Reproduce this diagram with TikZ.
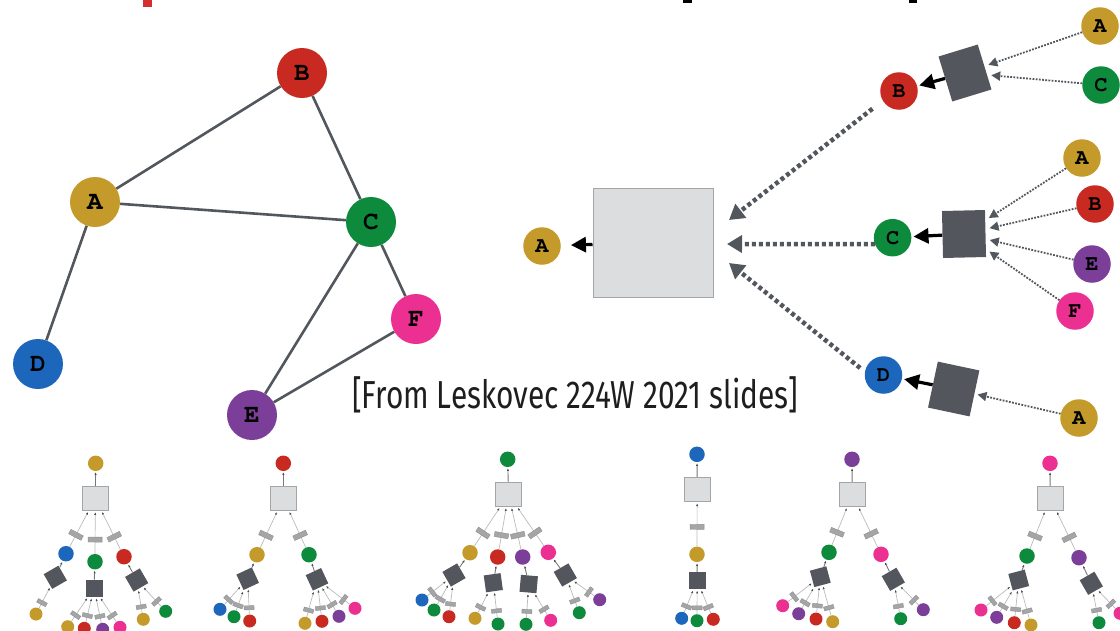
\documentclass[tikz,border=0pt]{standalone}
\usepackage[T1]{fontenc}
\usepackage{fontspec}
\usepackage{graphicx}
\usetikzlibrary{arrows.meta}
\newfontfamily\capfont{Fira Sans}
% Courier bold (URW) for the node letters
\newcommand\lett[1]{\fontencoding{T1}\fontfamily{pcr}\fontseries{b}\fontshape{n}\fontsize{#1}{#1}\selectfont}

\definecolor{cA}{HTML}{C49A2A}
\definecolor{cB}{HTML}{C82A22}
\definecolor{cC}{HTML}{0D8A3C}
\definecolor{cD}{HTML}{1C66BC}
\definecolor{cE}{HTML}{7B3F99}
\definecolor{cF}{HTML}{EC3092}
\definecolor{edgec}{HTML}{52575D}
\definecolor{aggc}{HTML}{53575D}
\definecolor{boxfill}{HTML}{DCDDDF}
\definecolor{boxline}{HTML}{A4A5A7}
\definecolor{msgfill}{HTML}{A3A5A7}
\definecolor{msgline}{HTML}{8E9092}
\definecolor{lineg}{HTML}{BBBBBB}
\definecolor{upg}{HTML}{777777}
\definecolor{tipc}{HTML}{4A4A4A}
\definecolor{headred}{HTML}{D32F2F}
\definecolor{captext}{HTML}{1E1E1E}

% small computation trees
\newcommand\tkid[5]{% name, colour, x, y, parent box
  \node[snode, fill=#2] (#1) at (#3,#4) {};
  \draw[tline] (#1) -- node[msgA]{} (#5);}
\newcommand\tleaf[5]{% name, colour, x, y, parent aggregator
  \node[lnode, fill=#2] (#1) at (#3,#4) {};
  \draw[tline] (#1) -- node[msgB]{} (#5);}
\newcommand\tagg[5]{% name, x, y, rotation, node it feeds
  \node[sagg, rotate=#4] (#1) at (#2,#3) {};
  \draw[uline] (#1) -- (#5);}

\begin{document}
\begin{tikzpicture}[x=1pt,y=-1pt,
  gnode/.style={circle, inner sep=0pt, minimum size=50pt, font=\lett{26}},
  tnode/.style={circle, inner sep=0pt, minimum size=37.5pt, font=\lett{22}},
  snode/.style={circle, inner sep=0pt, minimum size=15.5pt},
  lnode/.style={circle, inner sep=0pt, minimum size=13pt},
  gedge/.style={draw=edgec, line width=2.6pt},
  bigbox/.style={draw=boxline, fill=boxfill, line width=1pt, minimum width=120pt, minimum height=109pt, inner sep=0pt},
  agg/.style={fill=aggc, inner sep=0pt},
  outarrow/.style={black, line width=3.2pt, -{Triangle[length=15pt,width=15pt]}},
  thickdot/.style={draw=edgec, line width=4.5pt, dash pattern=on 4pt off 3pt, -{Triangle[length=15pt,width=17pt]}},
  thindot/.style={draw=edgec, line width=1.8pt, dash pattern=on 1.8pt off 1.4pt, -{Triangle[length=9pt,width=9pt]}},
  sbox/.style={draw=boxline, fill=boxfill, line width=0.8pt, minimum width=26pt, minimum height=24pt, inner sep=0pt},
  sagg/.style={fill=aggc, inner sep=0pt, minimum size=17pt},
  tline/.style={draw=lineg, line width=0.7pt, shorten >=1.5pt, -{Latex[length=2.6pt,width=2.2pt,color=tipc]}},
  uline/.style={draw=upg, line width=0.9pt, shorten >=1pt, -{Latex[length=2.6pt,width=2.2pt,color=tipc]}},
  msgA/.style={sloped, pos=0.33, fill=msgfill, draw=msgline, line width=0.4pt, minimum width=5pt, minimum height=14pt, inner sep=0pt},
  msgB/.style={msgA, pos=0.25, minimum width=4pt, minimum height=10pt}]
\useasboundingbox (0,0) rectangle (1120,630);
\clip (0,0) rectangle (1120,630);

% fragments of the heading line
\fill[headred] (143.3,0) rectangle (152,6.7);
\fill[black] (682.7,0) rectangle (691.7,2.7);
\fill[black] (909.3,0) rectangle (917.3,2.7);

% ---------------- input graph ----------------
\node[gnode, fill=cA] (A) at (95,202) {A};
\node[gnode, fill=cB] (B) at (302,73) {B};
\node[gnode, fill=cC] (C) at (371,222) {C};
\node[gnode, fill=cD] (D) at (38,364) {D};
\node[gnode, fill=cE] (E) at (252,415) {E};
\node[gnode, fill=cF] (F) at (416,319) {F};
\foreach \u/\v in {A/B, A/C, B/C, A/D, C/E, C/F, E/F}
  \draw[gedge] (\u) -- (\v);

% ---------------- computation graph of A ----------------
\node[bigbox] (top) at (653,242.5) {};
\node[tnode, fill=cA] (q) at (542,246) {A};
\draw[outarrow, shorten >=10pt] (top) -- (q);

% branch B
\node[tnode, fill=cB] (qB) at (899,91) {B};
\node[agg, rotate=17, minimum width=41pt, minimum height=47pt] (aB) at (965,73) {};
\draw[outarrow, shorten >=2pt] (aB) -- (qB);
\node[tnode, fill=cA] (qBA) at (1100,26) {A};
\node[tnode, fill=cC] (qBC) at (1101,85) {C};
\draw[thindot, shorten >=4pt] (qBA) -- (aB);
\draw[thindot, shorten >=4pt] (qBC) -- (aB);

% branch C
\node[tnode, fill=cC] (qC) at (892.6,237.7) {C};
\node[agg, rotate=1.3, minimum width=43pt, minimum height=47pt] (aC) at (964,234) {};
\draw[outarrow, shorten >=2pt] (aC) -- (qC);
\node[tnode, fill=cA] (qCA) at (1082,158) {A};
\node[tnode, fill=cB] (qCB) at (1095,204) {B};
\node[tnode, fill=cE] (qCE) at (1092,264) {E};
\node[tnode, fill=cF] (qCF) at (1075,311) {F};
\foreach \n in {qCA, qCB, qCE, qCF}
  \draw[thindot, shorten >=4pt] (\n) -- (aC);

% branch D
\node[tnode, fill=cD] (qD) at (883.5,375) {D};
\node[agg, rotate=-12, minimum width=42.5pt, minimum height=47pt] (aD) at (953.7,389) {};
\draw[outarrow, shorten >=2pt] (aD) -- (qD);
\node[tnode, fill=cA] (qDA) at (1079,418) {A};
\draw[thindot, shorten >=3pt] (qDA) -- (aD);

% messages into the top aggregator
\coordinate (inB) at (729,220);
\coordinate (inC) at (727,244);
\coordinate (inD) at (729,263);
\draw[thickdot, shorten <=13pt] (qB.211) -- (inB);
\draw[thickdot] (qC.200) -- (inC);
\draw[thickdot, shorten <=6pt] (qD.170) -- (inD);

% caption
\node[anchor=base west, inner sep=0pt, text=captext, font=\capfont\fontsize{39}{39}\selectfont] (cap) at (352,408)
  {\resizebox{446pt}{\height}{[From Leskovec 224W 2021 slides]}};

% ---------------- computation trees of every node ----------------
% root A
\node[snode, fill=cA] (r1) at (95.7,463.3) {};
\node[sbox] (b1) at (95.3,498.3) {};
\draw[uline] (b1) -- (r1);
\tkid{k1D}{cD}{66}{553.7}{b1}
\tkid{k1C}{cC}{95}{561.7}{b1}
\tkid{k1B}{cB}{124}{556.7}{b1}
\tagg{a1D}{55.3}{577.3}{30}{k1D}
\tagg{a1C}{94}{588.3}{0}{k1C}
\tagg{a1B}{136.7}{580}{30}{k1B}
\tleaf{l1DA}{cA}{36}{614}{a1D}
\tleaf{l1CA}{cA}{67.7}{626.7}{a1C}
\tleaf{l1CB}{cB}{84.3}{628.3}{a1C}
\tleaf{l1CE}{cE}{102.7}{629.3}{a1C}
\tleaf{l1CF}{cF}{120}{627.3}{a1C}
\tleaf{l1BA}{cA}{143.3}{619.3}{a1B}
\tleaf{l1BC}{cC}{165.7}{611.3}{a1B}

% root B
\node[snode, fill=cB] (r2) at (283.3,463.3) {};
\node[sbox] (b2) at (283.3,498.3) {};
\draw[uline] (b2) -- (r2);
\tkid{k2A}{cA}{257}{554.7}{b2}
\tkid{k2C}{cC}{309}{554.7}{b2}
\tagg{a2A}{247.7}{578.7}{25}{k2A}
\tagg{a2C}{317}{579.3}{25}{k2C}
\tleaf{l2AD}{cD}{220}{609.3}{a2A}
\tleaf{l2AC}{cC}{234}{616.7}{a2A}
\tleaf{l2AB}{cB}{249.7}{621}{a2A}
\tleaf{l2CA}{cA}{305}{623.3}{a2C}
\tleaf{l2CB}{cB}{322}{621.3}{a2C}
\tleaf{l2CE}{cE}{339}{616.3}{a2C}
\tleaf{l2CF}{cF}{355}{608.3}{a2C}

% root C
\node[snode, fill=cC] (r3) at (507.7,459.3) {};
\node[sbox] (b3) at (508.5,494.3) {};
\draw[uline] (b3) -- (r3);
\tkid{k3A}{cA}{470}{552.7}{b3}
\tkid{k3B}{cB}{497.7}{557}{b3}
\tkid{k3E}{cE}{522.7}{557}{b3}
\tkid{k3F}{cF}{548.3}{552.3}{b3}
\tagg{a3A}{454}{575}{30}{k3A}
\tagg{a3B}{493.3}{582.7}{8}{k3B}
\tagg{a3E}{528.7}{584}{-5}{k3E}
\tagg{a3F}{565.3}{575}{30}{k3F}
\tleaf{l3AD}{cD}{422}{600}{a3A}
\tleaf{l3AC}{cC}{434}{610}{a3A}
\tleaf{l3AB}{cB}{449}{616.7}{a3A}
\tleaf{l3BA}{cA}{475}{618.3}{a3B}
\tleaf{l3BC}{cC}{498}{624}{a3B}
\tleaf{l3EC}{cC}{526}{624.3}{a3E}
\tleaf{l3EF}{cF}{550.7}{620.3}{a3E}
\tleaf{l3FC}{cC}{579.3}{612.7}{a3F}
\tleaf{l3FE}{cE}{599.7}{599.7}{a3F}

% root D
\node[snode, fill=cD] (r4) at (697,454.3) {};
\node[sbox] (b4) at (697.2,489.5) {};
\draw[uline] (b4) -- (r4);
\node[snode, fill=cA] (k4A) at (697,554.3) {};
\draw[tline] (k4A) -- node[msgA, pos=0.44]{} (b4);
\tagg{a4A}{697.2}{580.5}{0}{k4A}
\tleaf{l4AD}{cD}{681.7}{618.3}{a4A}
\tleaf{l4AC}{cC}{697}{620.7}{a4A}
\tleaf{l4AB}{cB}{713.3}{619.3}{a4A}

% root E
\node[snode, fill=cE] (r5) at (852,459.3) {};
\node[sbox] (b5) at (852.3,494.3) {};
\draw[uline] (b5) -- (r5);
\tkid{k5C}{cC}{829}{552.3}{b5}
\tkid{k5F}{cF}{881}{554.3}{b5}
\tagg{a5C}{820.3}{576.7}{15}{k5C}
\tagg{a5F}{893.3}{579.3}{30}{k5F}
\tleaf{l5CF}{cF}{782.7}{605.7}{a5C}
\tleaf{l5CE}{cE}{798.7}{613.7}{a5C}
\tleaf{l5CB}{cB}{816}{619}{a5C}
\tleaf{l5CA}{cA}{832.7}{621.7}{a5C}
\tleaf{l5FC}{cC}{900.7}{618.7}{a5F}
\tleaf{l5FE}{cE}{923.3}{609.7}{a5F}

% root F
\node[snode, fill=cF] (r6) at (1050,463.3) {};
\node[sbox] (b6) at (1050.3,498.3) {};
\draw[uline] (b6) -- (r6);
\tkid{k6C}{cC}{1027}{556}{b6}
\tkid{k6E}{cE}{1079}{557.7}{b6}
\tagg{a6C}{1018.7}{580}{15}{k6C}
\tagg{a6E}{1091.3}{583.3}{30}{k6E}
\tleaf{l6CF}{cF}{981}{610}{a6C}
\tleaf{l6CE}{cE}{996.7}{617.3}{a6C}
\tleaf{l6CB}{cB}{1014.3}{622.7}{a6C}
\tleaf{l6CA}{cA}{1031}{625}{a6C}
\tleaf{l6EC}{cC}{1099}{622.7}{a6E}
\tleaf{l6EF}{cF}{1120}{613.3}{a6E}
\end{tikzpicture}
\end{document}
